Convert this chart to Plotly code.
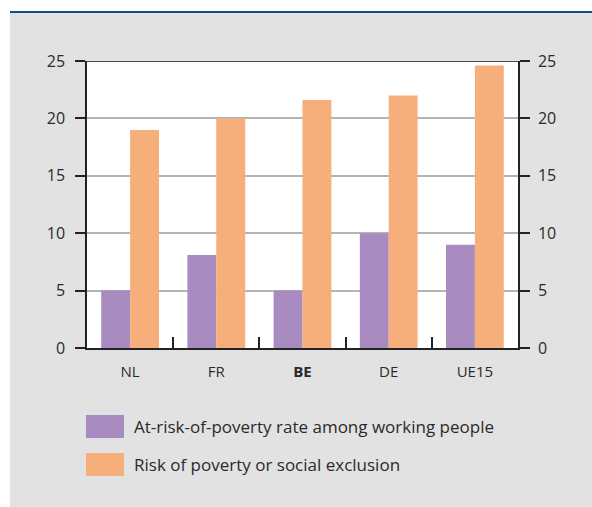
import plotly.graph_objects as go

categories = ["NL", "FR", "BE", "DE", "UE15"]
tick_labels = ["NL", "FR", "<b>BE</b>", "DE", "UE15"]
working_poor = [5.0, 8.1, 5.0, 10.0, 9.0]
poverty_exclusion = [19.0, 20.0, 21.6, 22.0, 24.6]
series_names = ["At-risk-of-poverty rate among working people",
                "Risk of poverty or social exclusion"]
y_ticks = [0, 5, 10, 15, 20, 25]

PURPLE = "#a78bc1"
ORANGE = "#f6ae7b"
GREY_BG = "#e2e2e2"
FONT = "Open Sans"
TXT = "#2a2a2a"

W, H = 592, 507
L, R, T, B = 87, 74, 61, 159
pw, ph = W - L - R, H - T - B

def px_x(x):
    return (x - L) / pw

def px_y(y):
    return (H - B - y) / ph

fig = go.Figure()
fig.add_trace(go.Bar(x=categories, y=working_poor, marker_color=PURPLE,
                     marker_line_width=0, name=series_names[0], showlegend=False))
fig.add_trace(go.Bar(x=categories, y=poverty_exclusion, marker_color=ORANGE,
                     marker_line_width=0, name=series_names[1], showlegend=False))
# invisible helper trace so the right-hand axis is drawn
fig.add_trace(go.Scatter(x=categories, y=poverty_exclusion, yaxis="y2", mode="markers",
                         marker=dict(opacity=0), hoverinfo="skip", showlegend=False))

shapes = [
    dict(type="rect", xref="paper", yref="paper", x0=px_x(0), x1=px_x(W),
         y0=px_y(0), y1=px_y(11), fillcolor="white", line_width=0, layer="below"),
    dict(type="rect", xref="paper", yref="paper", x0=px_x(0), x1=px_x(10),
         y0=px_y(0), y1=px_y(H), fillcolor="white", line_width=0, layer="below"),
    dict(type="line", xref="paper", yref="paper", x0=px_x(10), x1=px_x(W),
         y0=px_y(12), y1=px_y(12), line=dict(color="#124a8c", width=2)),
    dict(type="line", xref="paper", yref="y", x0=0, x1=1, y0=25, y1=25,
         line=dict(color="#4a4a4a", width=2)),
]

annotations = []
legend_rows = [(415, 438, PURPLE, series_names[0]), (453, 476, ORANGE, series_names[1])]
for y0, y1, col, name in legend_rows:
    shapes.append(dict(type="rect", xref="paper", yref="paper",
                       x0=px_x(86), x1=px_x(124), y0=px_y(y1), y1=px_y(y0),
                       fillcolor=col, line_width=0))
    annotations.append(dict(xref="paper", yref="paper", x=px_x(132), y=px_y((y0 + y1) / 2),
                            xanchor="left", yanchor="middle", text=name, showarrow=False,
                            font=dict(family=FONT, size=17, color=TXT)))

fig.update_layout(
    width=W, height=H,
    margin=dict(l=L, r=R, t=T, b=B, pad=0),
    paper_bgcolor=GREY_BG, plot_bgcolor="white",
    barmode="group", bargap=0.33, bargroupgap=0,
    font=dict(family=FONT, size=15, color=TXT),
    shapes=shapes, annotations=annotations,
    xaxis=dict(tickvals=categories, ticktext=tick_labels, tickson="boundaries",
               ticks="inside", ticklen=11, tickcolor="#222", tickwidth=1.5,
               showline=True, linecolor="#222", linewidth=2, showgrid=False,
               ticklabelstandoff=9,
               tickfont=dict(size=15, color=TXT)),
    yaxis=dict(range=[0, 25], tickvals=y_ticks, ticks="outside", ticklen=10,
               tickcolor="#222", tickwidth=1.5, showline=True, linecolor="#222",
               linewidth=1.5, showgrid=True, gridcolor="#b4b4b4", gridwidth=1.5,
               zeroline=False, ticklabelstandoff=7, tickfont=dict(size=16, color=TXT)),
    yaxis2=dict(range=[0, 25], tickvals=y_ticks, overlaying="y", side="right",
                ticks="outside", ticklen=10, tickcolor="#222", tickwidth=1.5,
                showline=True, linecolor="#222", linewidth=1.5, showgrid=False,
                zeroline=False, ticklabelstandoff=5, tickfont=dict(size=16, color=TXT)),
)

fig.write_html("out.html")
